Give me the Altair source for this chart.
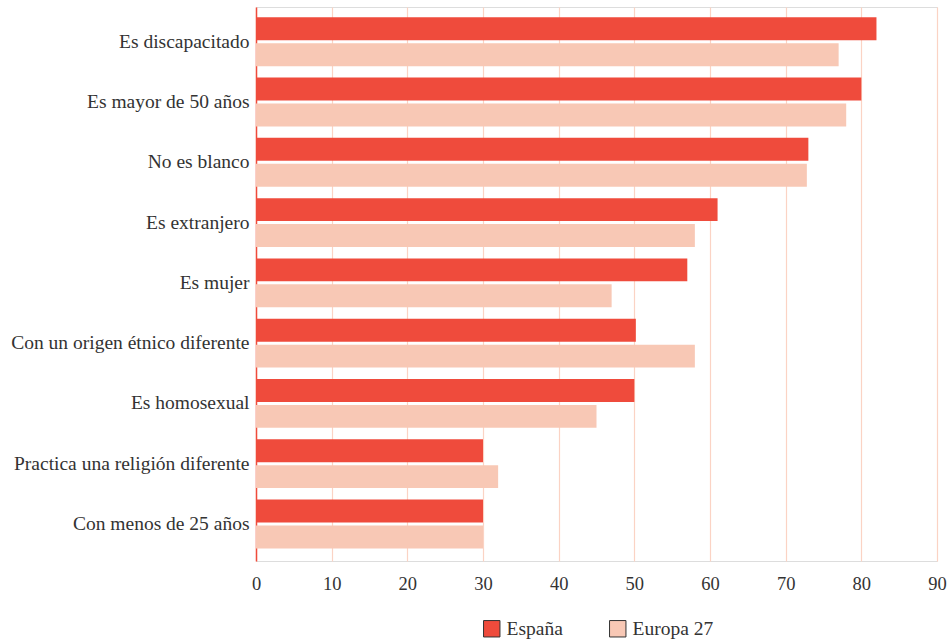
import altair as alt
import pandas as pd

categorias = [
    "Es discapacitado",
    "Es mayor de 50 años",
    "No es blanco",
    "Es extranjero",
    "Es mujer",
    "Con un origen étnico diferente",
    "Es homosexual",
    "Practica una religión diferente",
    "Con menos de 25 años",
]
espana = [82, 80, 73, 61, 57, 50.2, 50, 30, 30]
europa = [77, 78, 72.8, 58, 47, 58, 45, 32, 30]
series = ["España", "Europa 27"]
colores = ["#ef4b3c", "#f8c8b5"]
ticks = [0, 10, 20, 30, 40, 50, 60, 70, 80, 90]

rows = []
for c, e, u in zip(categorias, espana, europa):
    rows.append({"cat": c, "serie": series[0], "valor": e})
    rows.append({"cat": c, "serie": series[1], "valor": u})
df = pd.DataFrame(rows)

FONT = "Liberation Serif"
TXT = "#333333"

chart = (
    alt.Chart(df)
    .mark_bar()
    .encode(
        y=alt.Y(
            "cat:N",
            sort=categorias,
            scale=alt.Scale(paddingInner=0.19, paddingOuter=0.19, align=0.45),
            axis=alt.Axis(
                title=None,
                ticks=False,
                domain=True,
                domainColor="#ef4b3c",
                domainWidth=1.5,
                labelFont=FONT,
                labelFontSize=19.5,
                labelColor=TXT,
                labelPadding=7,
                labelLimit=0,
                grid=False,
            ),
        ),
        x=alt.X(
            "valor:Q",
            scale=alt.Scale(domain=[0, 90], nice=False),
            axis=alt.Axis(
                values=ticks,
                title=None,
                grid=True,
                gridColor="#fbd3c4",
                gridWidth=1.2,
                domain=False,
                ticks=False,
                labelFlush=False,
                labelPadding=13,
                labelFont=FONT,
                labelFontSize=18.5,
                labelColor=TXT,
            ),
        ),
        yOffset=alt.YOffset("serie:N", sort=series, scale=alt.Scale(paddingInner=0.115)),
        color=alt.Color(
            "serie:N",
            sort=series,
            scale=alt.Scale(domain=series, range=colores),
            legend=alt.Legend(
                title=None,
                orient="none",
                direction="horizontal",
                legendX=226,
                legendY=612,
                symbolType="square",
                symbolSize=270,
                symbolStrokeColor="#333333",
                symbolStrokeWidth=1,
                symbolOpacity=1,
                labelFont=FONT,
                labelFontSize=19.5,
                labelColor=TXT,
                labelOffset=5,
                columnPadding=44,
            ),
        ),
    )
    .properties(
        width=681,
        height=554,
        padding={"left": 256, "top": 7, "right": 15, "bottom": 78},
        autosize="none",
    )
    .configure_view(stroke=None)
    .configure(background="white")
)

chart.save("out.html", embed_options={"renderer": "svg", "actions": False})
